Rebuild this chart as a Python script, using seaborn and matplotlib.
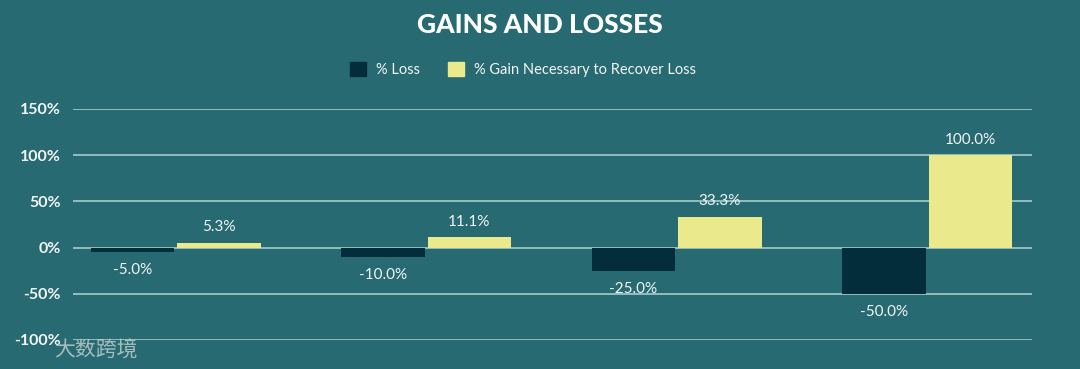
import matplotlib
matplotlib.use('Agg')
import matplotlib.pyplot as plt
import seaborn as sns
import pandas as pd

# Chart data
scenarios = ['Loss 5%', 'Loss 10%', 'Loss 25%', 'Loss 50%']
pct_loss = [-5.0, -10.0, -25.0, -50.0]
pct_gain = [5.3, 11.1, 33.3, 100.0]
series_names = ['% Loss', '% Gain Necessary to Recover Loss']
y_ticks = [-100, -50, 0, 50, 100, 150]

BG = '#276a72'
DARK = '#032d3a'
YELLOW = '#eaea8c'
GRID = '#a3cccc'
TEXT = '#f2f5f5'

df = pd.DataFrame({
    'scenario': scenarios * 2,
    'series': [series_names[0]] * 4 + [series_names[1]] * 4,
    'value': pct_loss + pct_gain,
})

sns.set_style('white')
plt.rcParams['font.family'] = ['Lato', 'DejaVu Sans']

fig = plt.figure(figsize=(10.8, 3.69), dpi=100, facecolor=BG)
ax = fig.add_axes([0.0676, 0.0786, 0.8884, 0.6266])
ax.set_facecolor(BG)

sns.barplot(data=df, x='scenario', y='value', hue='series',
            palette=[DARK, YELLOW], width=0.69, gap=0.03,
            saturation=1, linewidth=0, ax=ax, zorder=3)

# data labels: gains above, losses below
for cont, pad in zip(ax.containers, [8, 6]):
    ax.bar_label(cont, labels=['{:.1f}%'.format(v) for v in cont.datavalues],
                 padding=pad, color=TEXT, fontsize=11)

ax.set_ylim(-100, 150)
ax.set_xlim(-0.41, 3.42)
ax.set_yticks(y_ticks)
ax.set_yticklabels(['{}%'.format(t) for t in y_ticks])
ax.tick_params(axis='y', length=0, pad=9, labelsize=11.5, labelcolor=TEXT)
for lab in ax.get_yticklabels():
    lab.set_fontweight('bold')
ax.set_xticks([])
ax.set_xlabel('')
ax.set_ylabel('')
ax.grid(axis='y', color=GRID, lw=1.2, zorder=0)
for s in ax.spines.values():
    s.set_visible(False)

# legend
ax.get_legend().remove()
handles = [plt.Rectangle((0, 0), 1, 1, color=DARK),
           plt.Rectangle((0, 0), 1, 1, color=YELLOW)]
fig.legend(handles, series_names, loc='center', bbox_to_anchor=(0.484, 0.812),
           ncol=2, frameon=False, fontsize=10.5, labelcolor=TEXT,
           handlelength=1.1, handleheight=1.1, columnspacing=1.9,
           handletextpad=0.7)

fig.text(0.5, 0.932, 'GAINS AND LOSSES', ha='center', va='center',
         color='white', fontsize=19, fontweight='black')

# watermark
fig.text(0.05, 0.05, '大数跨境', ha='left', va='center', color='#c8d2d2',
         alpha=0.8, fontsize=15, family=['Noto Sans CJK SC', 'DejaVu Sans'])

fig.savefig('out.png', dpi=100, facecolor=BG)
